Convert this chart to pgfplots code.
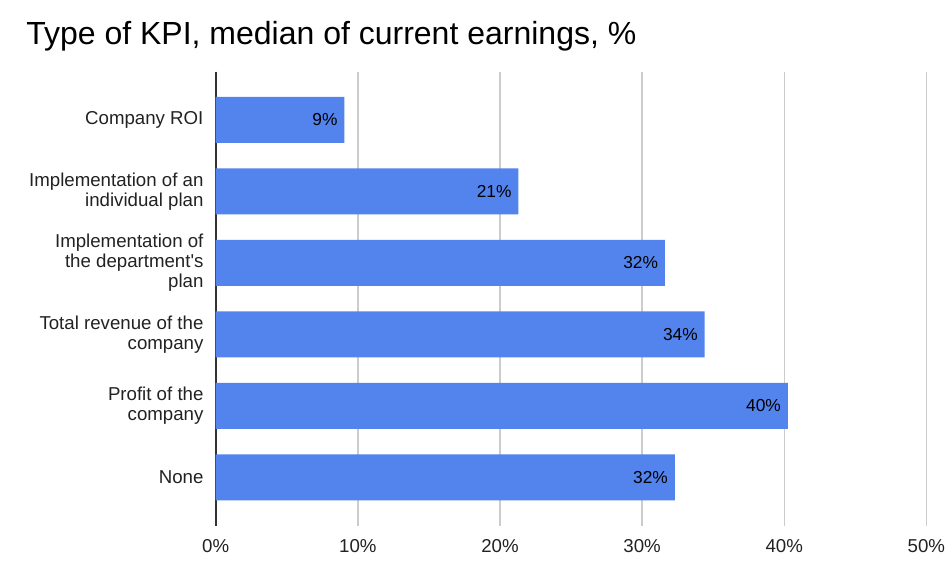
\documentclass[border=0pt]{standalone}
\usepackage{fontspec}
\setmainfont{Liberation Sans}
\usepackage{pgfplots}
\pgfplotsset{compat=1.18}
\definecolor{barblue}{RGB}{83,131,236}
\definecolor{gridgray}{RGB}{204,204,204}
\definecolor{axisdark}{RGB}{51,51,51}
\definecolor{txt}{RGB}{34,34,34}
\begin{document}
\begin{tikzpicture}
\path[use as bounding box] (0,0) rectangle (714pt,436.5pt);
\node[anchor=base west, inner sep=0pt, font=\fontsize{24}{27}\selectfont] at (19.5pt,402.75pt) {Type of KPI, median of current earnings, \%};
\begin{axis}[
  at={(161.8pt,42.2pt)}, anchor=south west,
  scale only axis, width=533pt, height=340.5pt,
  xbar, bar width=34.5pt,
  xmin=0, xmax=50, ymin=-0.675, ymax=5.675,
  y dir=reverse,
  xtick={0,10,20,30,40,50},
  xticklabels={0\%,10\%,20\%,30\%,40\%,50\%},
  ytick={0,1,2,3,4,5},
  yticklabels={Company ROI, Implementation of an\\individual plan, Implementation of\\the department\textquotesingle s\\plan, Total revenue of the\\company, Profit of the\\company, None},
  yticklabel style={align=right, inner sep=0pt, xshift=-9pt, font=\fontsize{14}{15}\selectfont, text=txt},
  xticklabel style={inner sep=0pt, yshift=-10pt, font=\fontsize{14}{15}\selectfont, text=txt},
  major tick length=0pt,
  axis line style={draw=none},
  xmajorgrids, grid style={color=gridgray, line width=1pt},
  extra x ticks={0}, extra x tick labels={},
  extra x tick style={grid style={color=axisdark, line width=1.5pt}},
  /pgf/number format/assume math mode=true,
  nodes near coords={\pgfmathprintnumber[fixed,precision=0]{\pgfplotspointmeta}\%},
  nodes near coords style={anchor=east, inner sep=0pt, xshift=-5pt, font=\fontsize{13}{14}\selectfont, text=black},
  point meta=x,
]
\addplot[fill=barblue, draw=none] coordinates {
  (9.05,0) (21.3,1) (31.6,2) (34.4,3) (40.25,4) (32.3,5)
};
\end{axis}
\end{tikzpicture}
\end{document}
